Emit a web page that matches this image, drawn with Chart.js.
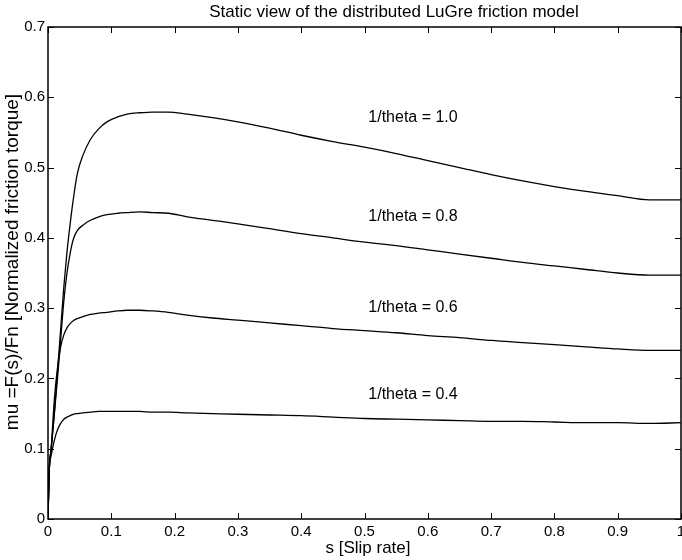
<!DOCTYPE html>
<html>
<head>
<meta charset="utf-8">
<script src="https://cdn.jsdelivr.net/npm/chart.js@4.4.0/dist/chart.umd.min.js"></script>
<style>
  html, body { margin: 0; padding: 0; background: #fff; }
  #wrap { width: 682px; height: 560px; position: relative; }
</style>
</head>
<body>
<div id="wrap"><canvas id="chartjs-0"></canvas></div>
<script>
// slip rate samples (x)
const slipRate = [0, 0.002, 0.005, 0.01, 0.015, 0.02, 0.025, 0.03, 0.035, 0.04, 0.046, 0.055,
    0.067, 0.08, 0.093, 0.11, 0.125, 0.145, 0.165, 0.19, 0.22, 0.26, 0.3, 0.35, 0.4, 0.45,
    0.5, 0.55, 0.6, 0.65, 0.7, 0.75, 0.8, 0.85, 0.9, 0.95, 1.0];

// normalized friction for each 1/theta
const mu10 = [0, 0.07, 0.1, 0.15, 0.21, 0.27, 0.33, 0.38, 0.42, 0.455, 0.49, 0.517,
    0.54, 0.555, 0.565, 0.572, 0.576, 0.578, 0.579, 0.579, 0.576, 0.571, 0.565, 0.556, 0.546, 0.537,
    0.529, 0.52, 0.51, 0.5, 0.49, 0.481, 0.473, 0.466, 0.46, 0.454, 0.454];
const mu08 = [0, 0.07, 0.1, 0.15, 0.2, 0.255, 0.31, 0.35, 0.378, 0.398, 0.41, 0.418,
    0.425, 0.43, 0.433, 0.435, 0.436, 0.437, 0.436, 0.435, 0.43, 0.425, 0.42, 0.413, 0.406, 0.4,
    0.394, 0.389, 0.383, 0.377, 0.371, 0.365, 0.36, 0.355, 0.35, 0.347, 0.347];
const mu06 = [0, 0.07, 0.1, 0.17, 0.215, 0.245, 0.262, 0.272, 0.278, 0.282, 0.285, 0.288,
    0.291, 0.293, 0.294, 0.296, 0.297, 0.297, 0.296, 0.294, 0.29, 0.286, 0.283, 0.279, 0.275, 0.271,
    0.268, 0.265, 0.261, 0.258, 0.254, 0.251, 0.248, 0.245, 0.242, 0.24, 0.24];
const mu04 = [0, 0.07, 0.09, 0.112, 0.127, 0.136, 0.142, 0.145, 0.147, 0.149, 0.15, 0.151,
    0.152, 0.153, 0.153, 0.153, 0.153, 0.153, 0.152, 0.152, 0.151, 0.15, 0.149, 0.148, 0.147, 0.145,
    0.143, 0.142, 0.141, 0.14, 0.139, 0.139, 0.138, 0.137, 0.137, 0.136, 0.137];

const curveNames = ["1/theta = 1.0", "1/theta = 0.8", "1/theta = 0.6", "1/theta = 0.4"];
const curveValues = [mu10, mu08, mu06, mu04];
// where each text label sits, in data units
const labelS = [0.506, 0.506, 0.506, 0.506];
const labelMu = [0.571, 0.43, 0.301, 0.177];

const titleText = "Static view of the distributed LuGre friction model";
const xTitle = "s [Slip rate]";
const yTitle = "mu =F(s)/Fn [Normalized friction torque]";

const FONT = "'Liberation Sans', Arial, sans-serif";

function toPoints(ys) {
    return slipRate.map((s, i) => ({ x: s, y: ys[i] }));
}

// box, inward ticks, titles and curve labels
const matlabFrame = {
    id: "matlabFrame",
    afterDraw(chart) {
        const ctx = chart.ctx;
        const a = chart.chartArea;
        const xs = chart.scales.x;
        const ys = chart.scales.y;
        const tl = 6;
        ctx.save();
        ctx.strokeStyle = "#000";
        ctx.lineWidth = 1.5;
        ctx.strokeRect(a.left, a.top, a.right - a.left, a.bottom - a.top);

        ctx.lineWidth = 1;
        ctx.beginPath();
        xs.ticks.forEach((t) => {
            let px = Math.round(xs.getPixelForValue(t.value)) + 0.5;
            ctx.moveTo(px, a.bottom); ctx.lineTo(px, a.bottom - tl);
            ctx.moveTo(px, a.top); ctx.lineTo(px, a.top + tl);
        });
        ys.ticks.forEach((t) => {
            let py = Math.round(ys.getPixelForValue(t.value)) + 0.5;
            ctx.moveTo(a.left, py); ctx.lineTo(a.left + tl, py);
            ctx.moveTo(a.right, py); ctx.lineTo(a.right - tl, py);
        });
        ctx.stroke();

        ctx.fillStyle = "#000";
        ctx.textBaseline = "middle";
        ctx.textAlign = "center";
        ctx.font = "17px " + FONT;
        ctx.fillText(titleText, 394, 12);
        ctx.fillText(xTitle, 368, 548);

        ctx.font = "16px " + FONT;
        ctx.textAlign = "left";
        curveNames.forEach((name, i) => {
            ctx.fillText(name, xs.getPixelForValue(labelS[i]), ys.getPixelForValue(labelMu[i]));
        });

        ctx.save();
        ctx.font = "19px " + FONT;
        ctx.translate(13, 262);
        ctx.rotate(-Math.PI / 2);
        ctx.textAlign = "center";
        ctx.fillText(yTitle, 0, 0);
        ctx.restore();
        ctx.restore();
    }
};

function tickText(value) {
    return String(Math.round(value * 10) / 10);
}

const ctx = document.getElementById("chartjs-0").getContext("2d");
window.myChart = new Chart(ctx, {
    type: "line",
    data: {
        datasets: curveValues.map((vals, i) => ({
            label: curveNames[i],
            data: toPoints(vals),
            borderColor: "#000",
            borderWidth: 1.3,
            pointRadius: 0,
            fill: false,
            cubicInterpolationMode: "monotone",
        })),
    },
    options: {
        responsive: true,
        maintainAspectRatio: false,
        animation: false,
        layout: { padding: { top: 27, right: 1, left: 0, bottom: 0 } },
        plugins: {
            legend: { display: false },
            tooltip: { enabled: false },
            title: { display: false },
        },
        scales: {
            x: {
                type: "linear",
                min: 0,
                max: 1,
                grid: { display: false, drawTicks: false },
                border: { display: false },
                ticks: {
                    stepSize: 0.1,
                    color: "#000",
                    font: { size: 15, family: FONT },
                    padding: 4,
                    maxRotation: 0,
                    callback: tickText,
                },
                afterFit: (scale) => {
                    scale.height = 41;
                    scale.paddingLeft = 0;
                    scale.paddingRight = 0;
                },
            },
            y: {
                min: 0,
                max: 0.7,
                grid: { display: false, drawTicks: false },
                border: { display: false },
                ticks: {
                    stepSize: 0.1,
                    color: "#000",
                    font: { size: 15, family: FONT },
                    padding: 3,
                    callback: tickText,
                },
                afterFit: (scale) => {
                    scale.width = 48;
                    scale.paddingTop = 0;
                    scale.paddingBottom = 0;
                },
            },
        },
    },
    plugins: [matlabFrame],
});
</script>
</body>
</html>
